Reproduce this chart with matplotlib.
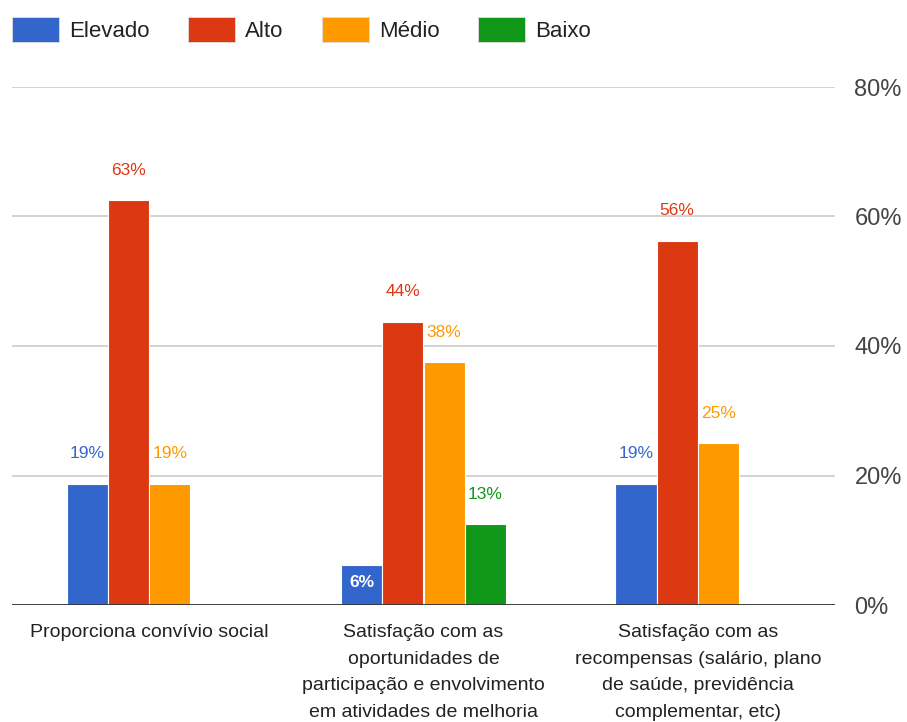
import numpy as np
import matplotlib.pyplot as plt
from matplotlib.patches import Patch

plt.rcParams['font.family'] = ['Liberation Sans', 'DejaVu Sans']

categories = ['Proporciona convívio social',
              'Satisfação com as\noportunidades de\nparticipação e envolvimento\nem atividades de melhoria',
              'Satisfação com as\nrecompensas (salário, plano\nde saúde, previdência\ncomplementar, etc)']
series = ['Elevado', 'Alto', 'Médio', 'Baixo']
colors = ['#3366cc', '#dc3912', '#ff9900', '#109618']

# percentages per series (one value per category), 0 = no response
elevado = [18.75, 6.25, 18.75]
alto = [62.5, 43.75, 56.25]
medio = [18.75, 37.5, 25.0]
baixo = [0.0, 12.5, 0.0]
values = [elevado, alto, medio, baixo]

fig = plt.figure(figsize=(9.07, 7.22), dpi=100)
ax = fig.add_axes([12/907, 1-605/722, 823/907, 518/722])

w = 0.1505
x = np.arange(len(categories))
for i, (name, vals, c) in enumerate(zip(series, values, colors)):
    pos = x + (i - 1.5) * w
    for xp, v in zip(pos, vals):
        if v <= 0:
            continue
        ax.bar(xp, v, width=w, color=c, edgecolor='white', linewidth=0.8, zorder=3)
        lab = '%d%%' % round(v + 0.001)
        if v < 10:
            ax.text(xp, v / 2 + 0.4, lab, ha='center', va='center', color='white',
                    fontsize=12.5, fontweight='bold', zorder=4)
        else:
            ax.text(xp, v + 4.6, lab, ha='center', va='center', color=c,
                    fontsize=12.5, zorder=4)

ax.set_xlim(-0.5, 2.5)
ax.set_ylim(0, 80)
ax.set_yticks([0, 20, 40, 60, 80])
ax.set_yticklabels(['0%', '20%', '40%', '60%', '80%'])
ax.yaxis.tick_right()
ax.tick_params(axis='y', length=0, pad=14, labelsize=17, labelcolor='#444444')
ax.set_xticks(x)
ax.set_xticklabels(categories, fontsize=14, color='#222222', linespacing=1.72, va='top')
ax.tick_params(axis='x', length=0, pad=14)
for sp in ax.spines.values():
    sp.set_visible(False)
ax.grid(axis='y', color='#cccccc', linewidth=1.2, zorder=0)
ax.axhline(0, color='#333333', linewidth=2, zorder=5)

handles = [Patch(facecolor=c, edgecolor='#dddddd', linewidth=0.6) for c in colors]
fig.legend(handles, series, loc='upper left', bbox_to_anchor=(-0.005, 1.0), ncol=4,
           frameon=False, fontsize=16, handlelength=2.1, handleheight=1.35,
           columnspacing=1.75, handletextpad=0.45, labelcolor='#222222',
           borderaxespad=0.35)

fig.savefig('out.png', dpi=100)
